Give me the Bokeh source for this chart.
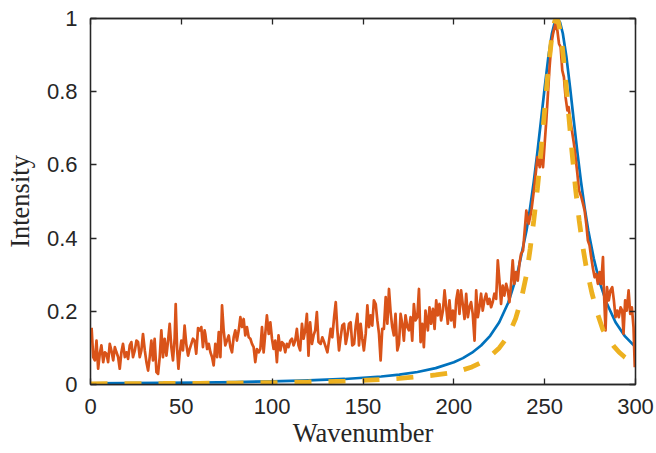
from bokeh.plotting import figure
from bokeh.models import Range1d, FixedTicker, LinearAxis
from bokeh.embed import file_html
from bokeh.resources import INLINE

# ---------------- data ----------------
x_ticks = [0, 50, 100, 150, 200, 250, 300]
x_tick_labels = ["0", "50", "100", "150", "200", "250", "300"]
y_ticks = [0, 0.2, 0.4, 0.6, 0.8, 1]
y_tick_labels = ["0", "0.2", "0.4", "0.6", "0.8", "1"]

x_label = "Wavenumber"
y_label = "Intensity"

# blue smooth curve
blue_x = [0, 20, 40, 60, 80, 100, 120, 140, 160, 170,
          180, 190, 200, 205, 210, 215, 220, 225, 230, 235,
          240, 242, 244, 246, 248, 250, 252, 254, 255.5, 257,
          258.5, 260, 262, 264, 266, 268, 270, 272, 274, 277,
          280, 284, 289, 294, 300]
blue_y = [0.0032, 0.0037, 0.0044, 0.0054, 0.0067, 0.0085, 0.0111, 0.0151, 0.0219, 0.027,
          0.0342, 0.0447, 0.0608, 0.0721, 0.0869, 0.1065, 0.133, 0.170, 0.224, 0.303,
          0.421, 0.483, 0.554, 0.635, 0.722, 0.811, 0.894, 0.959, 0.989, 1.0,
          0.989, 0.959, 0.894, 0.811, 0.722, 0.635, 0.554, 0.483, 0.421, 0.345,
          0.284, 0.224, 0.170, 0.133, 0.102]

# orange noisy measurement
orange_x = [
    0.6, 1.5, 2.4, 3.3, 4.2, 5.1, 6.0, 7.0, 7.9, 8.8, 9.7, 10.6, 11.5, 12.5, 13.4, 14.3,
    15.2, 16.1, 17.0, 17.9, 18.9, 19.8, 20.7, 21.6, 22.5, 23.4, 24.4, 25.3, 26.2, 27.1,
    28.0, 28.9, 29.9, 30.8, 31.7, 32.6, 33.5, 34.4, 35.3, 36.3, 37.2, 38.1, 39.0, 39.9,
    40.8, 41.8, 42.7, 43.6, 44.5, 45.4, 46.3, 46.9, 47.7, 48.4, 49.1, 50.0, 50.9, 51.8,
    52.7, 53.7, 54.6, 55.5, 56.4, 57.3, 58.2, 59.2, 60.1, 61.0, 61.9, 62.8,
    63.2, 64.2, 65.1, 66.0, 66.9, 67.8, 68.7, 69.7, 70.6, 71.5, 72.4, 73.3, 74.2, 75.1,
    76.1, 77.0, 77.9, 78.8, 79.7, 80.6, 81.6, 82.5, 83.4, 84.3, 85.2, 86.1, 87.1, 88.0,
    88.9, 89.8, 90.7, 91.6, 92.6, 93.5, 94.4, 95.3, 96.2, 97.1, 98.1, 99.0, 99.9, 100.8,
    101.7, 102.6, 103.5, 104.5, 105.4, 106.3, 107.2, 108.1, 109.0, 110.0, 110.9, 111.8,
    112.7, 113.6, 114.5, 115.4, 116.4, 117.3, 118.2, 119.1, 120.0, 120.9, 121.9, 122.8,
    123.7, 124.6, 125.5,
    126.7, 127.6, 128.6, 129.5, 130.4, 131.3, 132.2, 133.1, 134.1, 135.0, 135.9, 136.8,
    137.7, 138.6, 139.6, 140.5, 141.4, 142.3, 143.2, 144.1, 145.1, 146.0, 146.9, 147.8,
    148.7, 149.6, 150.5, 151.5, 152.4, 153.3, 154.2, 155.1, 156.0, 157.0, 157.9, 158.8,
    159.7, 160.6, 161.5, 162.5, 163.4, 164.3, 165.2, 166.1, 167.0, 167.9, 168.9, 169.8,
    170.7, 171.6, 172.5, 173.4, 174.4, 175.3, 176.2, 177.1, 178.0, 178.9, 179.9, 180.8,
    181.7, 182.6, 183.5, 184.4,
    185.7, 186.6, 187.5, 188.5, 189.4, 190.3, 191.2, 192.1, 193.0, 194.0, 194.9, 195.8,
    196.7, 197.6, 198.5, 199.5, 200.4, 201.3, 202.2, 203.1, 204.0, 205.0, 205.9, 206.8,
    207.7, 208.6, 209.5, 210.4, 211.4, 212.3, 213.2, 214.1, 215.0, 215.9, 216.8, 217.8,
    218.7, 219.6, 220.5, 221.4, 222.3, 223.3, 224.2, 225.1, 226.0, 226.9, 227.8, 228.8,
    229.7, 230.6, 231.5, 232.4, 233.3, 234.2, 235.2, 236.1, 237.0,
    238.1, 239.9, 241.2, 242.7, 244.5, 246.0, 247.3, 248.2, 249.1, 250.0, 250.9, 251.8,
    252.7, 253.7, 254.6, 255.9, 257.0, 257.9, 258.8, 259.7, 260.6, 261.5, 262.5, 263.2,
    264.1, 265.0, 266.1, 267.0, 268.0, 268.9,
    270.2, 271.1, 272.0, 272.9, 273.8, 274.7, 275.6, 276.6, 277.5, 278.4, 279.3, 280.2,
    281.1, 282.1, 282.6, 283.5, 284.3, 285.3, 286.2, 287.2, 288.1, 289.0, 289.9, 290.8,
    291.8, 292.7, 293.4, 294.3, 295.2, 296.2, 297.1, 298.0, 298.9, 299.6]
orange_y = [
    0.155, 0.075, 0.066, 0.120, 0.043, 0.084, 0.107, 0.061, 0.088, 0.084, 0.061, 0.111, 0.093, 0.066, 0.102, 0.088,
    0.075, 0.043, 0.088, 0.111, 0.075, 0.088, 0.070, 0.107, 0.116, 0.075, 0.093, 0.120, 0.116, 0.075,
    0.093, 0.138, 0.093, 0.061, 0.038, 0.075, 0.120, 0.066, 0.125, 0.034, 0.029, 0.075, 0.148, 0.075,
    0.125, 0.079, 0.120, 0.166, 0.102, 0.066, 0.125, 0.220, 0.093, 0.043, 0.084, 0.120, 0.093, 0.161,
    0.111, 0.079, 0.097, 0.111, 0.125, 0.120, 0.084, 0.154, 0.148, 0.157, 0.102, 0.148,
    0.138, 0.097, 0.111, 0.088, 0.075, 0.052, 0.111, 0.075, 0.143, 0.075, 0.216, 0.148, 0.107, 0.120,
    0.134, 0.102, 0.088, 0.129, 0.148, 0.120, 0.148, 0.184, 0.157, 0.179, 0.134, 0.157, 0.129, 0.125,
    0.111, 0.102, 0.061, 0.097, 0.088, 0.097, 0.157, 0.088, 0.138, 0.189, 0.138, 0.170, 0.125, 0.097,
    0.120, 0.061, 0.134, 0.093, 0.116, 0.111, 0.088, 0.111, 0.102, 0.120, 0.125, 0.107,
    0.120, 0.152, 0.107, 0.093, 0.166, 0.125, 0.148, 0.193, 0.079, 0.170, 0.111, 0.134,
    0.148, 0.198, 0.116,
    0.111, 0.129, 0.116, 0.102, 0.088, 0.120, 0.152, 0.129, 0.184, 0.225, 0.148, 0.093,
    0.129, 0.161, 0.166, 0.111, 0.134, 0.166, 0.170, 0.107, 0.111, 0.161, 0.193, 0.107,
    0.166, 0.125, 0.093, 0.139, 0.216, 0.157, 0.189, 0.161, 0.230, 0.220, 0.175, 0.139,
    0.066, 0.152, 0.152, 0.239, 0.166, 0.261, 0.198, 0.157, 0.134, 0.193, 0.093, 0.111,
    0.193, 0.166, 0.120, 0.189, 0.157, 0.148, 0.184, 0.120, 0.220, 0.175, 0.184, 0.261,
    0.116, 0.166, 0.102, 0.202,
    0.148, 0.211, 0.166, 0.207, 0.152, 0.230, 0.189, 0.220, 0.175, 0.202, 0.257, 0.211,
    0.166, 0.230, 0.175, 0.202, 0.157, 0.230, 0.257, 0.193, 0.257, 0.216, 0.179, 0.248,
    0.184, 0.211, 0.225, 0.193, 0.120, 0.257, 0.184, 0.211, 0.248, 0.202, 0.230, 0.248,
    0.220, 0.234, 0.211, 0.225, 0.248, 0.234, 0.339, 0.284, 0.220, 0.270, 0.243, 0.275,
    0.257, 0.225, 0.275, 0.339, 0.275, 0.307, 0.284, 0.330, 0.357,
    0.366, 0.475, 0.439, 0.475, 0.548, 0.621, 0.594, 0.639, 0.594, 0.658, 0.721, 0.794,
    0.867, 0.931, 0.958, 0.985, 0.967, 0.931, 0.922, 0.858, 0.840, 0.785, 0.749, 0.758,
    0.721, 0.694, 0.658, 0.621, 0.576, 0.530,
    0.512, 0.494, 0.475, 0.439, 0.393, 0.380, 0.348, 0.316, 0.293, 0.302, 0.275, 0.307,
    0.275, 0.348, 0.257, 0.148, 0.266, 0.230, 0.257, 0.266, 0.230, 0.184, 0.202, 0.184,
    0.211, 0.202, 0.139, 0.230, 0.202, 0.257, 0.193, 0.211, 0.157, 0.047]

# yellow dashed curve
yellow_x = [0, 20, 40, 60, 80, 100, 120, 140, 160, 170,
            180, 190, 200, 205, 210, 215, 220, 225, 228, 231,
            234, 237, 240, 242, 244, 246, 248, 250, 252, 254,
            255.5, 256.5, 257.5, 259, 261, 263, 265, 267, 269, 271,
            273, 276, 279, 282, 285, 288, 291, 294, 297, 300]
yellow_y = [0.0019, 0.0023, 0.0027, 0.0033, 0.0040, 0.0051, 0.0068, 0.0092, 0.0134, 0.0166,
            0.021, 0.026, 0.033, 0.040, 0.048, 0.060, 0.077, 0.100, 0.120, 0.145,
            0.180, 0.230, 0.300, 0.370, 0.448, 0.535, 0.637, 0.750, 0.862, 0.953,
            0.992, 1.0, 0.992, 0.953, 0.862, 0.750, 0.637, 0.535, 0.448, 0.376,
            0.317, 0.250, 0.195, 0.150, 0.125, 0.105, 0.088, 0.075, 0.065, 0.057]

# ---------------- styling ----------------
AX = "#262626"
TICK_FONT = "Liberation Sans"
LABEL_FONT = "Liberation Serif"

n_o = min(len(orange_x), len(orange_y))
n_b = min(len(blue_x), len(blue_y))
n_y = min(len(yellow_x), len(yellow_y))

p = figure(width=656, height=453, output_backend="svg", toolbar_location=None,
           x_range=Range1d(0, 300), y_range=Range1d(0, 1),
           min_border_left=90, min_border_right=21, min_border_top=18, min_border_bottom=69)
p.background_fill_color = "white"
p.border_fill_color = "white"
p.xgrid.visible = False
p.ygrid.visible = False
p.outline_line_color = AX
p.outline_line_width = 1.3
p.outline_line_alpha = 1.0

p.line(blue_x[:n_b], blue_y[:n_b], line_color="#0072BD", line_width=2.7, line_join="round")
p.line(orange_x[:n_o], orange_y[:n_o], line_color="#D95319", line_width=2.7, line_join="round")
p.line(yellow_x[:n_y], yellow_y[:n_y], line_color="#EDB120", line_width=4.8,
       line_dash="17 17", line_cap="butt")


def style_axis(ax, ticks, labels, show_labels):
    ax.major_tick_out = 0
    ax.minor_tick_out = 0
    ax.major_tick_line_color = AX
    ax.minor_tick_line_color = AX
    ax.major_tick_line_width = 1.3
    ax.minor_tick_line_width = 1.3
    ax.axis_line_color = AX
    ax.axis_line_width = 1.3
    if show_labels:
        ax.ticker = FixedTicker(ticks=ticks, minor_ticks=[])
        ax.major_tick_in = 6
        ax.minor_tick_in = 0
        ax.major_label_overrides = {t: l for t, l in zip(ticks, labels)}
        ax.major_label_text_font = TICK_FONT
        ax.major_label_text_font_size = "22px"
        ax.major_label_text_color = AX
    else:
        # tick marks only (no labels): use the positions as minor ticks
        ax.ticker = FixedTicker(ticks=[], minor_ticks=ticks)
        ax.major_tick_in = 0
        ax.minor_tick_in = 6
        ax.major_label_standoff = 0


xa = p.xaxis[0]
style_axis(xa, x_ticks, x_tick_labels, True)
xa.major_label_standoff = 14
xa.axis_label = x_label
xa.axis_label_text_font = LABEL_FONT
xa.axis_label_text_font_style = "normal"
xa.axis_label_text_font_size = "26.5px"
xa.axis_label_text_color = AX
xa.axis_label_standoff = 1

ya = p.yaxis[0]
style_axis(ya, y_ticks, y_tick_labels, True)
ya.major_label_standoff = 13
ya.axis_label = y_label
ya.axis_label_text_font = LABEL_FONT
ya.axis_label_text_font_style = "normal"
ya.axis_label_text_font_size = "26.5px"
ya.axis_label_text_color = AX
ya.axis_label_standoff = 9

top = LinearAxis()
style_axis(top, x_ticks, x_tick_labels, False)
p.add_layout(top, "above")

right = LinearAxis()
style_axis(right, y_ticks, y_tick_labels, False)
p.add_layout(right, "right")

open("out.html", "w").write(file_html(p, INLINE))
